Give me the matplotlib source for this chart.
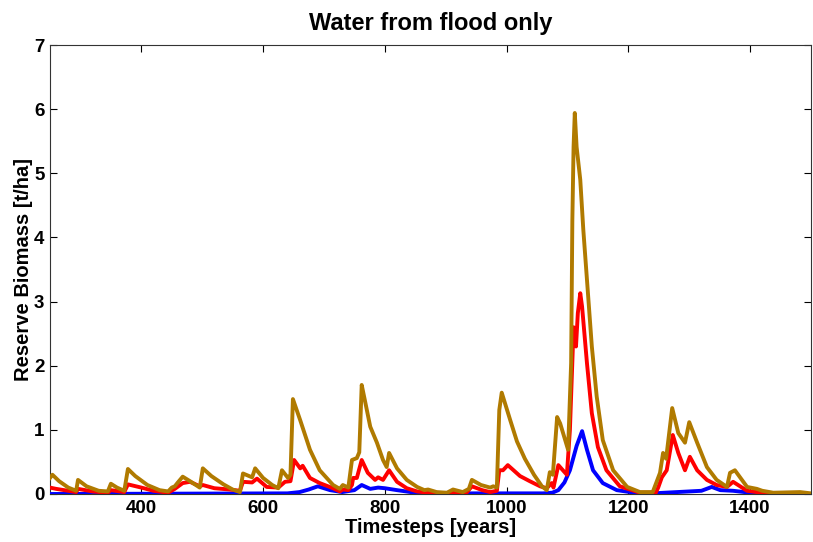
import matplotlib
matplotlib.use("Agg")
import matplotlib.pyplot as plt

plt.rcParams['font.family'] = ['Liberation Sans', 'DejaVu Sans']

gold_x = [250, 254, 265, 280, 293, 296, 310, 330, 345, 350, 360, 372, 378, 390, 410, 430, 444,
          450, 455, 460, 468, 480, 496, 501, 515, 535, 550, 562, 567, 582, 587, 600, 615, 625,
          631, 641, 645, 649, 661, 677, 693, 715, 726, 731, 740, 746, 754, 758, 762, 767, 776,
          787, 797, 803, 807, 820, 836, 853, 865, 871, 885, 902, 912, 928, 938, 943, 958, 973,
          978, 984, 988, 992, 1006, 1017, 1030, 1045, 1058, 1066, 1071, 1076, 1083, 1088, 1101,
          1104, 1106, 1108, 1110, 1112, 1115, 1121, 1126, 1132, 1140, 1148, 1158, 1175, 1198,
          1219, 1240, 1252, 1257, 1262, 1272, 1282, 1293, 1300, 1313, 1329, 1345, 1362, 1367,
          1375, 1395, 1411, 1420, 1438, 1482, 1500]
gold_y = [0.25, 0.30, 0.20, 0.10, 0.05, 0.22, 0.12, 0.05, 0.04, 0.16, 0.10, 0.05, 0.39, 0.28,
          0.14, 0.06, 0.04, 0.10, 0.12, 0.18, 0.27, 0.20, 0.10, 0.40, 0.28, 0.15, 0.07, 0.03,
          0.32, 0.26, 0.40, 0.25, 0.14, 0.09, 0.37, 0.25, 0.30, 1.48, 1.15, 0.69, 0.37, 0.14,
          0.08, 0.14, 0.10, 0.53, 0.56, 0.65, 1.70, 1.47, 1.05, 0.80, 0.53, 0.42, 0.64, 0.40,
          0.22, 0.11, 0.06, 0.07, 0.03, 0.02, 0.07, 0.03, 0.08, 0.22, 0.14, 0.10, 0.12, 0.10,
          1.31, 1.58, 1.15, 0.82, 0.55, 0.30, 0.12, 0.06, 0.34, 0.30, 1.20, 1.10, 0.69, 1.50,
          2.04, 4.27, 5.41, 5.94, 5.41, 4.90, 4.12, 3.34, 2.30, 1.52, 0.84, 0.37, 0.11, 0.03,
          0.03, 0.33, 0.64, 0.55, 1.34, 0.95, 0.80, 1.12, 0.80, 0.42, 0.22, 0.11, 0.33, 0.37,
          0.11, 0.08, 0.05, 0.02, 0.03, 0.01]

red_x = [250, 260, 280, 293, 296, 320, 345, 350, 372, 378, 400, 420, 444, 455, 468, 480, 496,
         501, 520, 545, 562, 567, 582, 590, 606, 625, 636, 645, 651, 661, 665, 677, 693, 715,
         726, 731, 740, 746, 748, 754, 762, 772, 784, 789, 797, 807, 820, 836, 853, 871, 900,
         935, 943, 960, 973, 984, 988, 994, 1002, 1022, 1038, 1055, 1066, 1074, 1077, 1085,
         1099, 1104, 1110, 1114, 1117, 1121, 1124, 1132, 1140, 1150, 1164, 1186, 1219, 1245,
         1249, 1255, 1263, 1273, 1282, 1293, 1301, 1313, 1329, 1345, 1362, 1372, 1395, 1411,
         1450, 1500]
red_y = [0.10, 0.08, 0.05, 0.03, 0.08, 0.04, 0.02, 0.06, 0.03, 0.15, 0.10, 0.05, 0.02, 0.08,
         0.17, 0.19, 0.12, 0.14, 0.09, 0.07, 0.05, 0.19, 0.18, 0.24, 0.11, 0.10, 0.19, 0.20,
         0.53, 0.40, 0.44, 0.25, 0.17, 0.09, 0.04, 0.07, 0.06, 0.14, 0.25, 0.25, 0.53, 0.33,
         0.22, 0.26, 0.22, 0.37, 0.19, 0.09, 0.04, 0.02, 0.01, 0.03, 0.12, 0.06, 0.03, 0.05,
         0.37, 0.37, 0.45, 0.28, 0.20, 0.12, 0.09, 0.17, 0.10, 0.45, 0.30, 1.00, 2.60, 2.30,
         2.82, 3.13, 2.92, 2.04, 1.26, 0.73, 0.37, 0.12, 0.02, 0.02, 0.10, 0.26, 0.37, 0.92,
         0.64, 0.37, 0.58, 0.37, 0.22, 0.14, 0.11, 0.19, 0.05, 0.03, 0.00, 0.00]

blue_x = [250, 640, 660, 675, 690, 710, 730, 750, 762, 776, 789, 800, 820, 850, 880, 1060, 1075,
          1085, 1095, 1104, 1115, 1124, 1132, 1142, 1158, 1181, 1210, 1240, 1300, 1320, 1337,
          1351, 1372, 1400, 1500]
blue_y = [0.00, 0.01, 0.03, 0.07, 0.12, 0.06, 0.03, 0.06, 0.14, 0.08, 0.10, 0.09, 0.06, 0.02,
          0.01, 0.01, 0.02, 0.06, 0.18, 0.37, 0.75, 0.98, 0.69, 0.37, 0.17, 0.06, 0.02, 0.01,
          0.04, 0.05, 0.11, 0.06, 0.05, 0.02, 0.00]

x_ticks = [400, 600, 800, 1000, 1200, 1400]
y_ticks = [0, 1, 2, 3, 4, 5, 6, 7]

fig = plt.figure(figsize=(8.13, 5.42), dpi=100)
ax = fig.add_axes([50 / 813, 48 / 542, 761 / 813, 449 / 542])

ax.plot(blue_x, blue_y, color='#0000FF', lw=2.8, zorder=3)
ax.plot(red_x, red_y, color='#FF0000', lw=2.8, zorder=3)
ax.plot(gold_x, gold_y, color='#B07A00', lw=2.8, zorder=3)

ax.set_xlim(250, 1500)
ax.set_ylim(0, 7)
ax.set_xticks(x_ticks)
ax.set_yticks(y_ticks)
ax.tick_params(direction='in', top=True, right=True, length=5, width=0.8,
               labelsize=13.5, pad=4)
for lbl in ax.get_xticklabels() + ax.get_yticklabels():
    lbl.set_fontweight('bold')
for s in ax.spines.values():
    s.set_linewidth(0.8)
    s.set_color('#333333')

ax.set_title('Water from flood only', fontsize=17, fontweight='bold', pad=11)
ax.set_xlabel('Timesteps [years]', fontsize=14.5, fontweight='bold', labelpad=1)
ax.set_ylabel('Reserve Biomass [t/ha]', fontsize=14.5, fontweight='bold', labelpad=1)

fig.savefig('out.png', dpi=100)
